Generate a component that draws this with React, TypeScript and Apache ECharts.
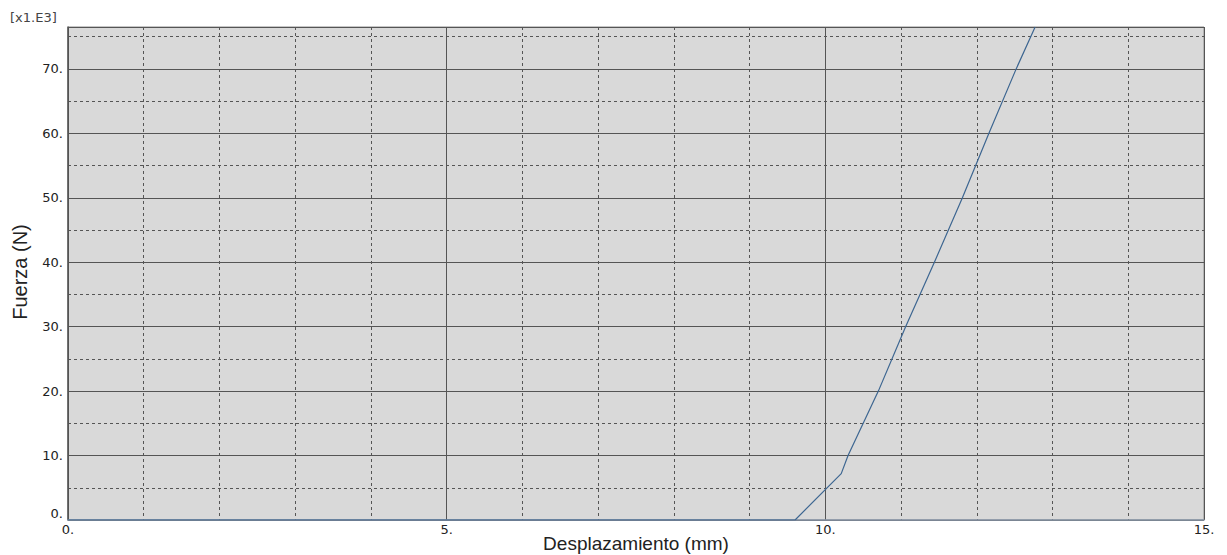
import React, { useEffect, useRef } from "react";
import * as echarts from "echarts";

const displacement = [0, 9.6, 10.21, 10.3, 10.7, 11.06, 11.44, 11.81, 12.16, 12.52, 12.77];
const force = [0, 0, 7.2, 10, 20, 30, 40, 50, 60, 70, 76.5];
const xMajorTicks = [0, 5, 10, 15];
const yMajorTicks = [0, 10, 20, 30, 40, 50, 60, 70];
const xTitle = "Desplazamiento (mm)";
const yTitle = "Fuerza (N)";
const scaleNote = "[x1.E3]";

export default function App() {
  const ref = useRef<HTMLDivElement>(null);
  useEffect(() => {
    if (!ref.current) return;
    const chart = echarts.init(ref.current, null, { renderer: "svg" });
    const data = displacement.map((x, i) => [x, force[i]]);
    const labelFont = { fontFamily: "DejaVu Sans", fontSize: 13, color: "#222" };
    chart.setOption({
      animation: false,
      grid: {
        left: 68,
        right: 23,
        top: 27,
        bottom: 35,
        show: true,
        backgroundColor: "#d9d9d9",
        borderColor: "#8c8c8c",
        borderWidth: 1,
      },
      xAxis: [
        {
          type: "value",
          position: "bottom",
          min: 0,
          max: 15,
          interval: 1,
          axisLine: { show: false },
          axisTick: { show: false },
          axisLabel: { show: false },
          splitLine: { show: true, lineStyle: { color: "#555", type: [3, 3], width: 1 } },
        },
        {
          type: "value",
          position: "bottom",
          min: 0,
          max: 15,
          interval: 5,
          axisLine: { show: true, lineStyle: { color: "#8896a8", width: 1.5 } },
          axisTick: { show: false },
          axisLabel: {
            ...labelFont,
            margin: 3,
            showMinLabel: true,
            showMaxLabel: true,
            hideOverlap: false,
            formatter: (v: number) => (xMajorTicks.includes(v) ? `${v}.` : ""),
          },
          splitLine: { show: true, lineStyle: { color: "#555", width: 1 } },
        },
      ],
      yAxis: [
        {
          type: "value",
          position: "left",
          min: 0,
          max: 76.5,
          interval: 5,
          axisLine: { show: false },
          axisTick: { show: false },
          axisLabel: { show: false },
          splitLine: { show: true, lineStyle: { color: "#555", type: [3, 3], width: 1 } },
        },
        {
          type: "value",
          position: "left",
          min: 0,
          max: 76.5,
          interval: 10,
          axisLine: { show: true, lineStyle: { color: "#555", width: 1.5 } },
          axisTick: { show: false },
          axisLabel: {
            ...labelFont,
            margin: 5,
            showMinLabel: true,
            hideOverlap: false,
            verticalAlignMinLabel: "bottom",
            formatter: (v: number) => (yMajorTicks.includes(v) ? `${v}.` : ""),
          },
          splitLine: { show: true, lineStyle: { color: "#555", width: 1 } },
        },
      ],
      series: [
        {
          type: "line",
          xAxisIndex: 1,
          yAxisIndex: 1,
          data,
          showSymbol: false,
          symbol: "none",
          clip: true,
          lineStyle: { color: "#3d6691", width: 1.2 },
        },
      ],
      graphic: [
        {
          type: "text",
          left: 10,
          top: 11,
          style: { text: scaleNote, fontFamily: "DejaVu Sans", fontSize: 13, fill: "#444" },
        },
        {
          type: "text",
          x: 20,
          y: 272,
          rotation: Math.PI / 2,
          style: {
            text: yTitle,
            fontFamily: "Liberation Sans",
            fontSize: 20,
            fill: "#222",
            align: "center",
            verticalAlign: "middle",
          },
        },
        {
          type: "text",
          x: 636,
          y: 543,
          style: {
            text: xTitle,
            fontFamily: "Liberation Sans",
            fontSize: 19,
            fill: "#222",
            align: "center",
            verticalAlign: "middle",
          },
        },
      ],
    });
    return () => chart.dispose();
  }, []);
  return (
    <div
      ref={ref}
      style={{ position: "absolute", left: 0, top: 0, width: 1227, height: 555 }}
    />
  );
}
